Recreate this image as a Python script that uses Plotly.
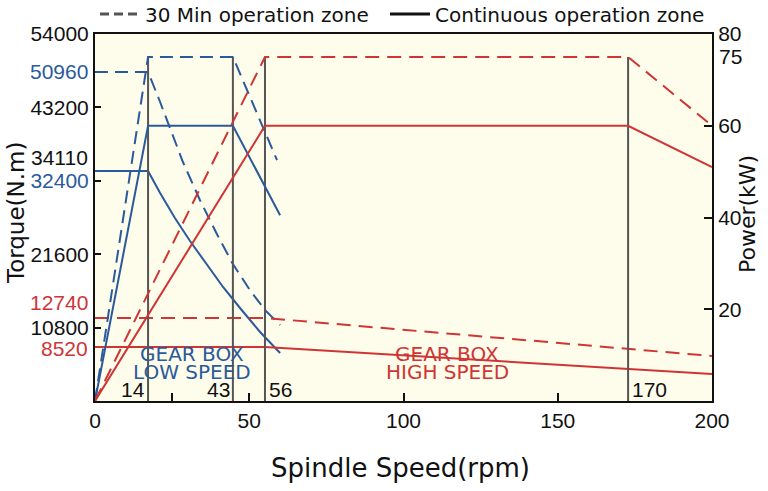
import plotly.graph_objects as go

# ---------------- data ----------------
# Low-speed gear box (blue)
low_pwr30_rpm = [0, 17.2, 44.7, 59.0]
low_pwr30_kw = [0, 75, 75, 52.5]
low_pwrS1_rpm = [0, 17.2, 44.7, 60.0]
low_pwrS1_kw = [0, 60, 60, 40.5]
low_trq30_rpm = [0, 17.2, 21.1, 24.3, 28.5, 34.0, 39.5, 44.7, 50.2, 55.1, 60.0]
low_trq30_nm = [48410, 48410, 43995, 40169, 35166, 29575, 24572, 20158, 16333, 13390, 11183]
low_trqS1_rpm = [0, 17.2, 21.1, 25.9, 30.8, 35.7, 41.5, 47.0, 53.5, 60.0]
low_trqS1_nm = [33842, 33842, 30605, 26927, 23542, 20452, 16774, 13684, 10153, 7063]

# High-speed gear box (red)
high_pwr30_rpm = [0, 55.1, 172.8, 200]
high_pwr30_kw = [0, 75, 75, 60]
high_pwrS1_rpm = [0, 55.1, 172.8, 200]
high_pwrS1_kw = [0, 60, 60, 51]
high_trq30_rpm = [0, 55.1, 200]
high_trq30_nm = [12213, 12213, 6621]
high_trqS1_rpm = [0, 55.1, 200]
high_trqS1_nm = [7946, 7946, 3973]

# Speed markers (vertical lines) and their labels
vline_rpm = [17.2, 44.7, 55.1, 172.8]
vline_top_kw = [75, 75, 75, 75]
vline_labels = ["14", "43", "56", "170"]

# Axis tick labels
x_ticks = [0, 25, 50, 100, 150, 200]
x_ticktext = ["0", "", "50", "100", "150", "200"]
torque_ticks = [10800, 21600, 32400, 43200, 54000]
power_ticks = [20, 40, 60, 80]
torque_extra_labels = ["50960", "34110", "12740", "8520"]
torque_extra_pos = [48556, 35902, 14567, 7798]
power_extra_label = "75"

BLUE = "#2B5A9C"
RED = "#CF3535"
NUM_FONT = "Liberation Sans, sans-serif"
TXT_FONT = "DejaVu Sans, sans-serif"

W, H = 768, 491
# plot area in page pixels: x 95..712, y 34..401
L, R, T, B = 95, 768 - 712, 34, 491 - 401
pw, ph = W - L - R, H - T - B

def px_x(px):
    return (px - L) / pw

def px_y(py):
    return (H - B - py) / ph

fig = go.Figure()

def add_line(x, y, color, dash, axis="y"):
    fig.add_trace(go.Scatter(x=x, y=y, mode="lines", yaxis=axis,
                             line=dict(color=color, width=2, dash=dash),
                             showlegend=False, hoverinfo="skip"))

# vertical marker lines
for xv, top in zip(vline_rpm, vline_top_kw):
    add_line([xv, xv], [0, top], "#555555", "solid", "y2")

# blue low gear
add_line(low_pwr30_rpm, low_pwr30_kw, BLUE, "13px,7px", "y2")
add_line(low_pwrS1_rpm, low_pwrS1_kw, BLUE, "solid", "y2")
add_line(low_trq30_rpm, low_trq30_nm, BLUE, "13px,7px", "y")
add_line(low_trqS1_rpm, low_trqS1_nm, BLUE, "solid", "y")
# red high gear
add_line(high_pwr30_rpm, high_pwr30_kw, RED, "14px,8px", "y2")
add_line(high_pwrS1_rpm, high_pwrS1_kw, RED, "solid", "y2")
add_line(high_trq30_rpm, high_trq30_nm, RED, "14px,8px", "y")
add_line(high_trqS1_rpm, high_trqS1_nm, RED, "solid", "y")

# legend entries (two legends so each can sit where the reference has it)
fig.add_trace(go.Scatter(x=[None], y=[None], mode="lines", name="30 Min operation zone",
                         line=dict(color="#555555", width=3, dash="9px,5px"), legend="legend"))
fig.add_trace(go.Scatter(x=[None], y=[None], mode="lines", name="Continuous operation zone",
                         line=dict(color="#111111", width=3), legend="legend2"))

ann = []
# speed labels
for xv, lab in zip(vline_rpm, vline_labels):
    left = lab in ("14", "43")
    ann.append(dict(x=xv, y=px_y(389), xref="x", yref="paper", text=lab, showarrow=False,
                    xanchor="right" if left else "left", yanchor="middle",
                    xshift=-1 if left else 2,
                    font=dict(size=21, color="#111111", family=NUM_FONT)))
# left extra labels
extra_colors = [BLUE, "#111111", RED, RED]
for lab, pos, col in zip(torque_extra_labels, torque_extra_pos, extra_colors):
    ann.append(dict(x=0, y=pos, xref="paper", yref="y", text=lab, showarrow=False,
                    xanchor="right", yanchor="middle", xshift=-5,
                    font=dict(size=21, color=col, family=NUM_FONT)))
ann.append(dict(x=1, y=75, xref="paper", yref="y2", text=power_extra_label, showarrow=False,
                xanchor="left", yanchor="middle", xshift=5,
                font=dict(size=21, color="#111111", family=NUM_FONT)))
# gear box texts
for txt, cx, cy, col in [("GEAR BOX", 192, 354, BLUE), ("LOW SPEED", 192, 372, BLUE),
                         ("GEAR BOX", 447, 354, RED), ("HIGH SPEED", 447, 372, RED)]:
    ann.append(dict(x=px_x(cx), y=px_y(cy), xref="paper", yref="paper", text=txt,
                    showarrow=False, xanchor="center", yanchor="middle",
                    font=dict(size=20, color=col, family=TXT_FONT)))
# axis titles
ann.append(dict(x=px_x(16), y=px_y(213), xref="paper", yref="paper", text="Torque(N.m)",
                showarrow=False, textangle=-90, xanchor="center", yanchor="middle",
                font=dict(size=23, color="#111111", family=TXT_FONT)))
ann.append(dict(x=px_x(747), y=px_y(214), xref="paper", yref="paper", text="Power(kW)",
                showarrow=False, textangle=-90, xanchor="center", yanchor="middle",
                font=dict(size=22, color="#111111", family=TXT_FONT)))
ann.append(dict(x=px_x(400), y=px_y(468), xref="paper", yref="paper", text="Spindle Speed(rpm)",
                showarrow=False, xanchor="center", yanchor="middle",
                font=dict(size=26, color="#111111", family=TXT_FONT)))

legend_style = dict(orientation="h", xanchor="left", y=px_y(14), yanchor="middle",
                    font=dict(size=20, family=TXT_FONT, color="#111111"),
                    bgcolor="rgba(0,0,0,0)", itemwidth=40)

fig.update_layout(
    width=W, height=H,
    margin=dict(l=L, r=R, t=T, b=B, autoexpand=False),
    paper_bgcolor="white",
    plot_bgcolor="#FEFCEA",
    font=dict(family=NUM_FONT, size=21, color="#111111"),
    showlegend=True,
    legend=dict(x=0.0, **legend_style),
    legend2=dict(x=px_x(385), **legend_style),
    xaxis=dict(range=[0, 200], tickvals=x_ticks, ticktext=x_ticktext, automargin=False,
               ticks="inside", ticklen=8, tickwidth=1.5, tickcolor="#111111",
               showgrid=False, zeroline=False, showline=True, linecolor="#111111",
               linewidth=2, mirror=True, tickfont=dict(size=21, family=NUM_FONT)),
    yaxis=dict(range=[0, 54000], tickvals=torque_ticks, automargin=False,
               ticktext=["10800", "21600", "<span style='color:%s'>32400</span>" % BLUE, "43200", "54000"],
               ticks="inside", ticklen=6, tickwidth=1.5, tickcolor="#111111",
               showgrid=False, zeroline=False, showline=True, linecolor="#111111",
               linewidth=2, tickfont=dict(size=21, family=NUM_FONT)),
    yaxis2=dict(range=[0, 80], tickvals=power_ticks, overlaying="y", side="right",
                automargin=False,
                ticks="inside", ticklen=8, tickwidth=1.5, tickcolor="#111111",
                showgrid=False, zeroline=False, showline=True, linecolor="#111111",
                linewidth=2, tickfont=dict(size=21, family=NUM_FONT)),
    annotations=ann,
)

fig.write_html("out.html", config={"displayModeBar": False},
               post_script="document.body.style.margin='0';")
